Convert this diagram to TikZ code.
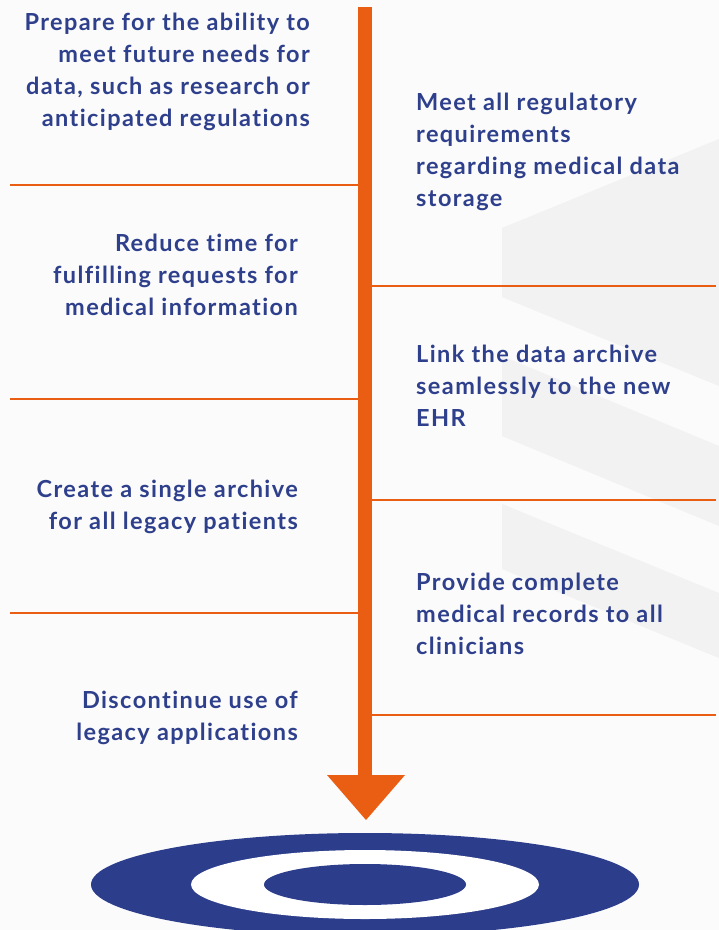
\documentclass[tikz,border=0pt]{standalone}
\usepackage{fontspec}
\setmainfont{Lato}
\newfontfamily\goalface{Lato}[LetterSpace=6, Ligatures={NoCommon,NoRare}]
\definecolor{brandorange}{HTML}{EA5E14}
\definecolor{navy}{HTML}{2B3D8B}
\definecolor{navytext}{HTML}{2E3F8C}
\definecolor{paper}{HTML}{FBFBFB}
\definecolor{haze}{HTML}{F2F2F2}
\newcommand\goalfont{\goalface\fontsize{23.5}{32}\selectfont\bfseries}
\newcommand\goallines[2]{\begin{tabular}[t]{@{}#1@{}}#2\end{tabular}}
\begin{document}
\begin{tikzpicture}[x=1pt,y=-1pt,
  goal/.style={inner sep=0pt, text=navytext, font=\goalfont},
  leftgoal/.style={goal, anchor=base east},
  rightgoal/.style={goal, anchor=base west},
  rule/.style={draw=brandorange, line width=2pt},
  shaft/.style={draw=brandorange, line width=14pt},
]
\useasboundingbox (0,0) rectangle (719,930);
\fill[paper] (0,0) rectangle (719,930);

\begin{scope}
  \clip (0,0) rectangle (719,930);
  % faint diagonal bands in the background
  \fill[haze] (502,228) -- (719,139) -- (719,386) -- (502,297) -- cycle;
  \fill[haze] (502,356) -- (719,446) -- (719,526) -- (502,436) -- cycle;
  \fill[haze] (502,504) -- (719,593) -- (719,658) -- (502,569) -- cycle;

  % target rings
  \fill[navy]  (365,884.5) ellipse [x radius=274, y radius=51.5];
  \fill[white] (365,884.5) ellipse [x radius=174, y radius=34.5];
  \fill[navy]  (365,884.5) ellipse [x radius=101, y radius=20.5];
\end{scope}

% separators on the left of the timeline
\coordinate (la1) at (10,185);  \coordinate (lb1) at (358,185);
\coordinate (la2) at (10,399);  \coordinate (lb2) at (358,399);
\coordinate (la3) at (10,613);  \coordinate (lb3) at (358,613);
% separators on the right of the timeline
\coordinate (ra1) at (372,286); \coordinate (rb1) at (716,286);
\coordinate (ra2) at (372,500); \coordinate (rb2) at (716,500);
\coordinate (ra3) at (372,715); \coordinate (rb3) at (716,715);
\foreach \i in {1,2,3} {
  \draw[rule] (la\i) -- (lb\i);
  \draw[rule] (ra\i) -- (rb\i);
}

% the timeline arrow
\coordinate (shafttop) at (365,7);
\coordinate (shaftend) at (365,777);
\draw[shaft] (shafttop) -- (shaftend);
\coordinate (headl) at (327,775);
\coordinate (headr) at (405,775);
\coordinate (headtip) at (366,820);
\fill[brandorange] (headl) -- (headr) -- (headtip) -- cycle;

% goals, left column
\node[leftgoal] (g1) at (310,30) {\goallines{r}{Prepare for the ability to\\meet future needs for\\data, such as research or\\anticipated regulations}};
\node[leftgoal] (g2) at (298,251) {\goallines{r}{Reduce time for\\fulfilling requests for\\medical information}};
\node[leftgoal] (g3) at (298,497) {\goallines{r}{Create a single archive\\for all legacy patients}};
\node[leftgoal] (g4) at (298,708) {\goallines{r}{Discontinue use of\\legacy applications}};

% goals, right column
\node[rightgoal] (h1) at (416,110) {\goallines{l}{Meet all regulatory\\requirements\\regarding medical data\\storage}};
\node[rightgoal] (h2) at (416,362) {\goallines{l}{Link the data archive\\seamlessly to the new\\EHR}};
\node[rightgoal] (h3) at (416,590) {\goallines{l}{Provide complete\\medical records to all\\clinicians}};
\end{tikzpicture}
\end{document}
